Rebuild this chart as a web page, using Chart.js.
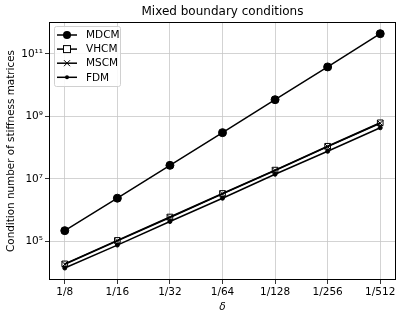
<!DOCTYPE html>
<html>
<head>
<meta charset="utf-8">
<script src="https://cdn.jsdelivr.net/npm/chart.js@4/dist/chart.umd.min.js"></script>
<style>
  html, body { margin: 0; padding: 0; background: #fff; }
  #wrap { width: 403px; height: 317px; }
</style>
</head>
<body>
<div id="wrap"><canvas id="c" width="403" height="317"></canvas></div>
<script>
const categories = ["1/8", "1/16", "1/32", "1/64", "1/128", "1/256", "1/512"];
const mdcm = [2.2e5, 2.4e6, 2.7e7, 3.0e8, 3.4e9, 3.8e10, 4.4e11];
const vhcm = [1.9e4, 1.07e5, 6.0e5, 3.4e6, 1.9e7, 1.1e8, 6.2e8];
const mscm = [1.85e4, 1.04e5, 5.8e5, 3.3e6, 1.85e7, 1.07e8, 6.0e8];
const fdm = [1.4e4, 7.6e4, 4.3e5, 2.4e6, 1.4e7, 7.6e7, 4.3e8];
const yTicks = [1e5, 1e7, 1e9, 1e11];
const yTickLabels = ["10⁵", "10⁷", "10⁹", "10¹¹"];

const FONT = "'DejaVu Sans', sans-serif";

function pts(arr) {
  return arr.map((v, i) => ({ x: i, y: v }));
}

const series = [
  { label: "MDCM", data: mdcm, style: "circle", radius: 4, fill: "#000" },
  { label: "VHCM", data: vhcm, style: "rect", radius: 4, fill: "rgba(0,0,0,0)" },
  { label: "MSCM", data: mscm, style: "crossRot", radius: 4, fill: "#000" },
  { label: "FDM", data: fdm, style: "circle", radius: 2, fill: "#000" }
];

// legend marker, drawn by hand like matplotlib's
function legendMarker(ctx, s, x, y) {
  ctx.strokeStyle = "#000";
  ctx.fillStyle = "#000";
  ctx.lineWidth = 1;
  if (s.style === "rect") {
    ctx.fillStyle = "#fff";
    ctx.fillRect(x - 3, y - 3, 6, 6);
    ctx.strokeRect(x - 3.5, y - 3.5, 7, 7);
  } else if (s.style === "crossRot") {
    ctx.beginPath();
    ctx.moveTo(x - 3, y - 3); ctx.lineTo(x + 3, y + 3);
    ctx.moveTo(x - 3, y + 3); ctx.lineTo(x + 3, y - 3);
    ctx.stroke();
  } else {
    ctx.beginPath();
    ctx.arc(x, y, s.radius, 0, Math.PI * 2);
    ctx.fill();
  }
}

// title, frame and legend drawn on top of the chart
const extras = {
  id: "extras",
  afterDraw(chart) {
    const ctx = chart.ctx;
    const a = chart.chartArea;
    ctx.save();
    ctx.strokeStyle = "#000";
    ctx.lineWidth = 1;
    ctx.strokeRect(Math.round(a.left) + 0.5, Math.round(a.top) + 0.5,
      Math.round(a.right - a.left) - 1, Math.round(a.bottom - a.top) - 1);

    ctx.fillStyle = "#000";
    ctx.font = "12px " + FONT;
    ctx.textAlign = "center";
    ctx.textBaseline = "middle";
    ctx.fillText("Mixed boundary conditions", (a.left + a.right) / 2, 12);

    // legend box
    const bx = 54, by = 26, bw = 66, bh = 60;
    ctx.fillStyle = "rgba(255,255,255,0.85)";
    ctx.strokeStyle = "#d0d0d0";
    ctx.beginPath();
    ctx.roundRect(bx + 0.5, by + 0.5, bw, bh, 2);
    ctx.fill();
    ctx.stroke();
    ctx.font = "10.5px " + FONT;
    ctx.textAlign = "left";
    series.forEach((s, i) => {
      const y = 35 + i * 14.1;
      ctx.strokeStyle = "#000";
      ctx.lineWidth = 1.5;
      ctx.beginPath();
      ctx.moveTo(57, y);
      ctx.lineTo(77, y);
      ctx.stroke();
      legendMarker(ctx, s, 67, y);
      ctx.fillStyle = "#000";
      ctx.fillText(s.label, 86, y + 0.5);
    });
    ctx.restore();
  }
};

new Chart(document.getElementById("c"), {
  type: "line",
  data: {
    datasets: series.map(s => ({
      label: s.label,
      data: pts(s.data),
      borderColor: "#000",
      borderWidth: 1.5,
      backgroundColor: s.fill,
      pointBackgroundColor: s.fill,
      pointBorderColor: "#000",
      pointBorderWidth: 1,
      pointStyle: s.style,
      pointRadius: s.radius,
      pointHoverRadius: s.radius,
      tension: 0,
      fill: false
    }))
  },
  options: {
    responsive: false,
    animation: false,
    events: [],
    layout: { padding: { left: 0, right: 7, top: 22, bottom: 0 } },
    plugins: {
      legend: { display: false },
      title: { display: false },
      tooltip: { enabled: false }
    },
    scales: {
      x: {
        type: "linear",
        min: -0.3,
        max: 6.3,
        afterBuildTicks: s => { s.ticks = categories.map((c, i) => ({ value: i })); },
        afterFit: s => { s.height = 37; },
        ticks: {
          callback: v => categories[v],
          color: "#000",
          font: { family: FONT, size: 10.5 },
          padding: 2,
          maxRotation: 0,
          autoSkip: false
        },
        grid: { color: "#c8c8c8", lineWidth: 0.8, tickColor: "#000", tickLength: 4 },
        border: { display: false },
        title: {
          display: true,
          text: "δ",
          color: "#000",
          font: { family: FONT, size: 10.5, style: "italic" },
          padding: { top: 0, bottom: 3 }
        }
      },
      y: {
        type: "logarithmic",
        min: 5.8e3,
        max: 1.04e12,
        afterBuildTicks: s => { s.ticks = yTicks.map(v => ({ value: v })); },
        afterFit: s => { s.width = 49; },
        ticks: {
          callback: v => yTickLabels[yTicks.indexOf(v)],
          color: "#000",
          font: { family: FONT, size: 10.5 },
          padding: 2
        },
        grid: { color: "#c8c8c8", lineWidth: 0.8, tickColor: "#000", tickLength: 4 },
        border: { display: false },
        title: {
          display: true,
          text: "Condition number of stiffness matrices",
          color: "#000",
          font: { family: FONT, size: 10.4 },
          padding: { top: 5, bottom: 0 }
        }
      }
    }
  },
  plugins: [extras]
});
</script>
</body>
</html>
